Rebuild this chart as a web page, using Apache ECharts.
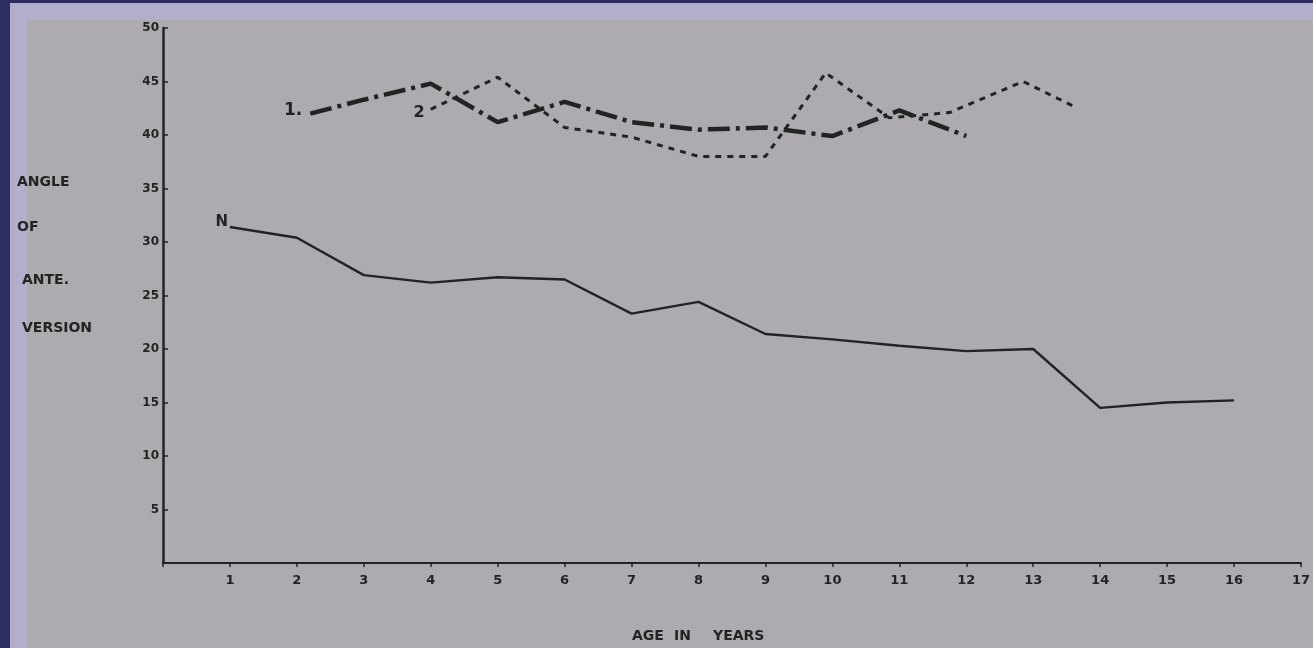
<!DOCTYPE html>
<html>
<head>
<meta charset="utf-8">
<script src="https://cdn.jsdelivr.net/npm/echarts@6/dist/echarts.min.js"></script>
<style>
  html, body { margin: 0; padding: 0; width: 1313px; height: 648px; overflow: hidden; background: #2e2d63; }
  #lav { position: absolute; left: 10px; top: 3px; right: 0; bottom: 0; background: #b2aecb; }
  #gray { position: absolute; left: 27px; top: 20px; right: 0; bottom: 0; background: #aeabb0; }
  #chart { position: absolute; left: 0; top: 0; width: 1313px; height: 648px; }
</style>
</head>
<body>
<div id="lav"></div>
<div id="gray"></div>
<div id="chart"></div>
<script>
// ---- data ----
const xTicks = [1, 2, 3, 4, 5, 6, 7, 8, 9, 10, 11, 12, 13, 14, 15, 16, 17];
const yTicks = [5, 10, 15, 20, 25, 30, 35, 40, 45, 50];

const normalAges   = [1, 2, 3, 4, 5, 6, 7, 8, 9, 10, 11, 12, 13, 14, 15, 16];
const normalValues = [31.4, 30.4, 26.9, 26.2, 26.7, 26.5, 23.3, 24.4, 21.4, 20.9, 20.3, 19.8, 20.0, 14.5, 15.0, 15.2];

const group1Ages   = [2.2, 3, 4, 5, 6, 7, 8, 9, 10, 11, 12];
const group1Values = [42.0, 43.3, 44.8, 41.2, 43.1, 41.2, 40.5, 40.7, 39.9, 42.3, 39.9];

const group2Ages   = [4, 5, 6, 7, 8, 9, 9.9, 10.85, 11.75, 12.85, 13.6];
const group2Values = [42.4, 45.4, 40.7, 39.8, 38.0, 38.0, 45.8, 41.6, 42.1, 45.0, 42.7];

const seriesLabels = ['N', '1.', '2'];
const xAxisTitleWords = ['AGE', 'IN', 'YEARS'];
const yAxisTitleLines = ['ANGLE', 'OF', 'ANTE.', 'VERSION'];

// ---- chart ----
const ink = '#232323';
const fontFam = '"DejaVu Sans", sans-serif';

function pairs(xs, ys, labelText, labelOpts) {
  return xs.map((x, i) => {
    const item = { value: [x, ys[i]] };
    if (i === 0) {
      item.label = Object.assign({
        show: true, formatter: labelText, position: 'left',
        color: ink, fontWeight: 'bold', fontFamily: fontFam
      }, labelOpts);
    }
    return item;
  });
}

const chart = echarts.init(document.getElementById('chart'), null, { renderer: 'canvas' });

const titleFont = 'bold 14px ' + fontFam;

const option = {
  backgroundColor: 'transparent',
  animation: false,
  grid: { left: 163, top: 28, width: 1141, height: 535, containLabel: false },
  xAxis: {
    type: 'value', min: 0, max: 17, interval: 1,
    axisLine: { lineStyle: { color: ink, width: 2 } },
    axisTick: { show: true, inside: false, length: 4, lineStyle: { color: ink, width: 1.5 } },
    splitLine: { show: false },
    axisLabel: {
      margin: 11, color: ink, fontSize: 13, fontWeight: 'bold', fontFamily: fontFam,
      formatter: v => (xTicks.indexOf(v) >= 0 ? String(v) : '')
    }
  },
  yAxis: {
    type: 'value', min: 0, max: 50, interval: 5,
    axisLine: { show: true, lineStyle: { color: ink, width: 2.5 } },
    axisTick: { show: true, inside: true, length: 5, lineStyle: { color: ink, width: 1.5 } },
    splitLine: { show: false },
    axisLabel: {
      margin: 4, color: ink, fontSize: 12, fontWeight: 'bold', fontFamily: fontFam,
      formatter: v => (yTicks.indexOf(v) >= 0 ? String(v) : '')
    }
  },
  graphic: [
    { type: 'text', left: 632, top: 629, style: { text: xAxisTitleWords[0], fill: ink, font: titleFont } },
    { type: 'text', left: 674, top: 629, style: { text: xAxisTitleWords[1], fill: ink, font: titleFont } },
    { type: 'text', left: 713, top: 629, style: { text: xAxisTitleWords[2], fill: ink, font: titleFont } },
    { type: 'text', left: 17, top: 175, style: { text: yAxisTitleLines[0], fill: ink, font: titleFont } },
    { type: 'text', left: 17, top: 220, style: { text: yAxisTitleLines[1], fill: ink, font: titleFont } },
    { type: 'text', left: 22, top: 273, style: { text: yAxisTitleLines[2], fill: ink, font: titleFont } },
    { type: 'text', left: 22, top: 321, style: { text: yAxisTitleLines[3], fill: ink, font: titleFont } }
  ],
  series: [
    {
      name: 'N', type: 'line', symbol: 'circle', symbolSize: 0.01, showSymbol: true,
      itemStyle: { color: ink },
      lineStyle: { color: ink, width: 2.4 },
      data: pairs(normalAges, normalValues, seriesLabels[0], { fontSize: 15, distance: 2, offset: [0, -5] })
    },
    {
      name: '1', type: 'line', symbol: 'circle', symbolSize: 0.01, showSymbol: true,
      itemStyle: { color: ink },
      lineStyle: { color: ink, width: 4.5, type: [22, 6, 4, 6], cap: 'butt' },
      data: pairs(group1Ages, group1Values, seriesLabels[1], { fontSize: 17, distance: 8, offset: [0, -3] })
    },
    {
      name: '2', type: 'line', symbol: 'circle', symbolSize: 0.01, showSymbol: true,
      itemStyle: { color: ink },
      lineStyle: { color: ink, width: 3, type: [6, 6], cap: 'butt' },
      data: pairs(group2Ages, group2Values, seriesLabels[2], { fontSize: 16, distance: 6, offset: [0, 4] })
    }
  ]
};

chart.setOption(option);
</script>
</body>
</html>
